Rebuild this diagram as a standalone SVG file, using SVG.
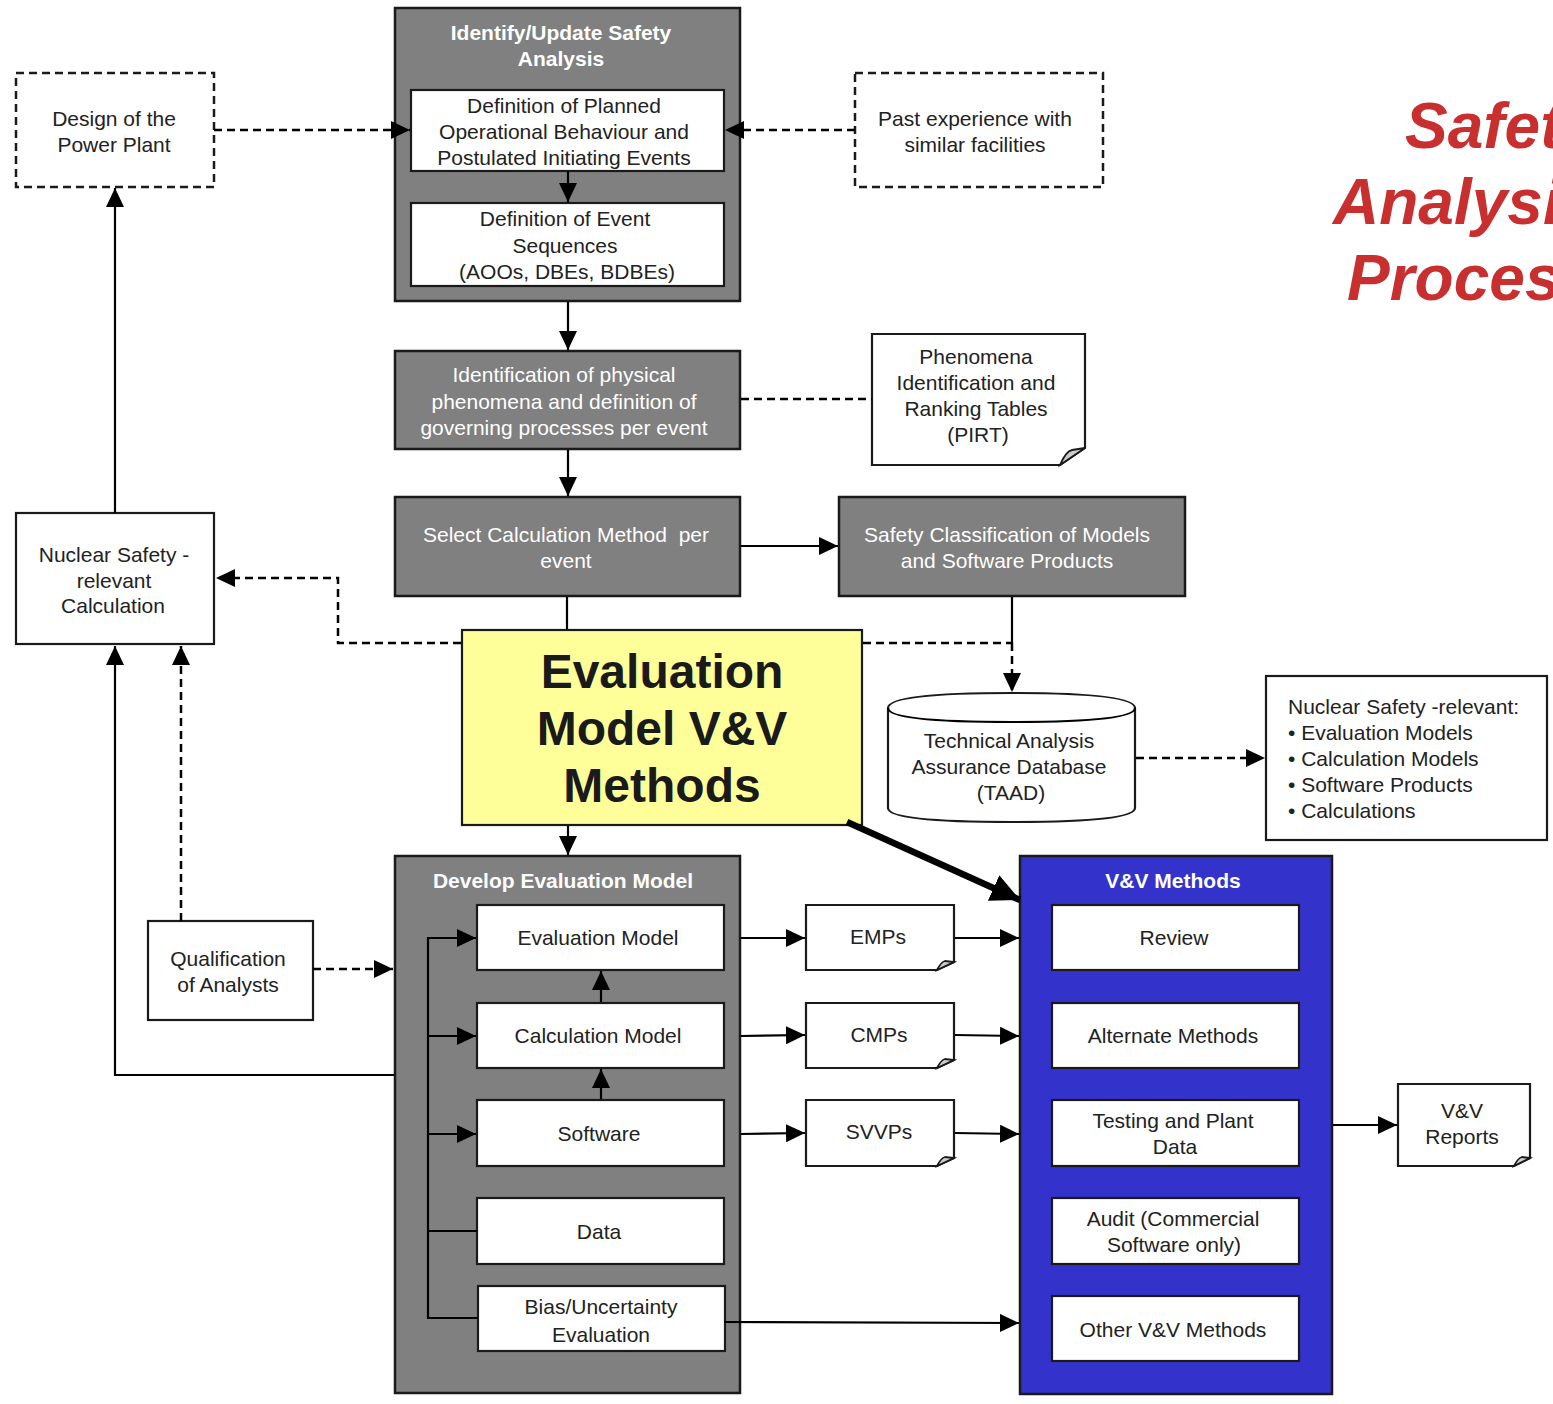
<svg xmlns="http://www.w3.org/2000/svg" width="1553" height="1404" viewBox="0 0 1553 1404">
  <style>
    text { font-family: "Liberation Sans", Arial, sans-serif; }
    .t { font-size: 21px; fill: #222; text-anchor: middle; }
    .tl { font-size: 21px; fill: #222; text-anchor: start; }
    .tw { font-size: 21px; fill: #fff; text-anchor: middle; }
    .hw { font-size: 21px; fill: #fff; text-anchor: middle; font-weight: bold; }
    .big { font-size: 48px; fill: #1a1a1a; text-anchor: middle; font-weight: bold; }
    .red { font-size: 64px; fill: #c8302f; font-weight: bold; font-style: italic; }
    .grey { fill: #808080; stroke: #1a1a1a; stroke-width: 2.5; }
    .white { fill: #fff; stroke: #1a1a1a; stroke-width: 2.2; }
    .dash { fill: #fff; stroke: #1a1a1a; stroke-width: 2.5; stroke-dasharray: 8 5; }
    .blue { fill: #3333cc; stroke: #1a1a1a; stroke-width: 2.5; }
    .fold { fill: #cccccc; stroke: #1a1a1a; stroke-width: 1.8; }
    .ln { fill: none; stroke: #000; stroke-width: 2.2; }
    .ld { fill: none; stroke: #000; stroke-width: 2.5; stroke-dasharray: 8 5; }
    .arr { marker-end: url(#ah); }
  </style>
  <defs>
    <marker id="ah" markerUnits="userSpaceOnUse" markerWidth="20" markerHeight="18" refX="19" refY="9" orient="auto">
      <path d="M0,0 L19,9 L0,18 Z" fill="#000"/>
    </marker>
    <marker id="ahBig" markerUnits="userSpaceOnUse" markerWidth="30" markerHeight="28" refX="29" refY="14" orient="auto">
      <path d="M0,0 L29,14 L0,28 Z" fill="#000"/>
    </marker>
  </defs>

  <rect width="1553" height="1404" fill="#fff"/>

  <!-- title -->
  <g id="title">
    <text class="red" x="1405" y="148">Safety</text>
    <text class="red" x="1333" y="224">Analysis</text>
    <text class="red" x="1347" y="300">Process</text>
  </g>

  <g id="design">
    <rect class="dash" x="16" y="73" width="198" height="114"/>
    <text class="t" x="114" y="126">Design of the</text>
    <text class="t" x="114" y="152">Power Plant</text>
  </g>

  <g id="past">
    <rect class="dash" x="855" y="73" width="248" height="114"/>
    <text class="t" x="975" y="126">Past experience with</text>
    <text class="t" x="975" y="152">similar facilities</text>
  </g>

  <g id="identify">
    <rect class="grey" x="395" y="8" width="345" height="293"/>
    <text class="hw" x="561" y="40">Identify/Update Safety</text>
    <text class="hw" x="561" y="66">Analysis</text>
    <rect class="white" x="411" y="90" width="313" height="81"/>
    <text class="t" x="564" y="113">Definition of Planned</text>
    <text class="t" x="564" y="139">Operational Behaviour and</text>
    <text class="t" x="564" y="165">Postulated Initiating Events</text>
    <rect class="white" x="411" y="203" width="313" height="83"/>
    <text class="t" x="565" y="226">Definition of Event</text>
    <text class="t" x="565" y="253">Sequences</text>
    <text class="t" x="567" y="279">(AOOs, DBEs, BDBEs)</text>
  </g>

  <g id="phenomena">
    <rect class="grey" x="395" y="351" width="345" height="98"/>
    <text class="tw" x="564" y="382">Identification of physical</text>
    <text class="tw" x="564" y="409">phenomena and definition of</text>
    <text class="tw" x="564" y="435">governing processes per event</text>
  </g>

  <g id="pirt">
    <path class="white" d="M872,334 H1085 V448 L1060,465 H872 Z"/>
    <path class="fold" d="M1060,465 Q1066,451 1072,450 L1085,448 Z"/>
    <text class="t" x="976" y="364">Phenomena</text>
    <text class="t" x="976" y="390">Identification and</text>
    <text class="t" x="976" y="416">Ranking Tables</text>
    <text class="t" x="978" y="442">(PIRT)</text>
  </g>

  <g id="select">
    <rect class="grey" x="395" y="497" width="345" height="99"/>
    <text class="tw" x="566" y="542" xml:space="preserve">Select Calculation Method  per</text>
    <text class="tw" x="566" y="568">event</text>
  </g>

  <g id="classification">
    <rect class="grey" x="839" y="497" width="346" height="99"/>
    <text class="tw" x="1007" y="542">Safety Classification of Models</text>
    <text class="tw" x="1007" y="568">and Software Products</text>
  </g>

  <g id="calculation">
    <rect class="white" x="16" y="513" width="198" height="131"/>
    <text class="t" x="114" y="562">Nuclear Safety -</text>
    <text class="t" x="114" y="588">relevant</text>
    <text class="t" x="113" y="613">Calculation</text>
  </g>

  <g id="vv-core">
    <rect fill="#ffff99" stroke="#1a1a1a" stroke-width="2.2" x="462" y="630" width="400" height="195"/>
    <text class="big" x="662" y="688">Evaluation</text>
    <text class="big" x="662" y="745">Model V&amp;V</text>
    <text class="big" x="662" y="802">Methods</text>
  </g>

  <g id="taad">
    <path class="white" d="M888,708 Q888,693 1012,693 Q1135,693 1135,708 V808 Q1135,822 1012,822 Q888,822 888,808 Z"/>
    <path class="ln" d="M888,708 Q888,722 1012,722 Q1135,722 1135,708"/>
    <text class="t" x="1009" y="748">Technical Analysis</text>
    <text class="t" x="1009" y="774">Assurance Database</text>
    <text class="t" x="1011" y="800">(TAAD)</text>
  </g>

  <g id="relevant-list">
    <rect class="white" x="1266" y="676" width="281" height="164"/>
    <text class="tl" x="1288" y="714">Nuclear Safety -relevant:</text>
    <text class="tl" x="1288" y="740">• Evaluation Models</text>
    <text class="tl" x="1288" y="766">• Calculation Models</text>
    <text class="tl" x="1288" y="792">• Software Products</text>
    <text class="tl" x="1288" y="818">• Calculations</text>
  </g>

  <g id="develop">
    <rect class="grey" x="395" y="856" width="345" height="537"/>
    <text class="hw" x="563" y="888">Develop Evaluation Model</text>
    <g id="evaluation-model">
      <rect class="white" x="477" y="905" width="247" height="65"/>
      <text class="t" x="598" y="945">Evaluation Model</text>
    </g>
    <g id="calculation-model">
      <rect class="white" x="477" y="1003" width="247" height="65"/>
      <text class="t" x="598" y="1043">Calculation Model</text>
    </g>
    <g id="software">
      <rect class="white" x="477" y="1100" width="247" height="66"/>
      <text class="t" x="599" y="1141">Software</text>
    </g>
    <g id="data">
      <rect class="white" x="477" y="1198" width="247" height="66"/>
      <text class="t" x="599" y="1239">Data</text>
    </g>
    <g id="bias">
      <rect class="white" x="478" y="1286" width="247" height="65"/>
      <text class="t" x="601" y="1314">Bias/Uncertainty</text>
      <text class="t" x="601" y="1342">Evaluation</text>
    </g>
  </g>

  <g id="qualification">
    <rect class="white" x="148" y="921" width="165" height="99"/>
    <text class="t" x="228" y="966">Qualification</text>
    <text class="t" x="228" y="992">of Analysts</text>
  </g>

  <g id="emps">
    <path class="white" d="M806,905 H954 V962 L937,970 H806 Z"/>
    <path class="fold" d="M937,970 Q941,962 945,961 L954,962 Z"/>
    <text class="t" x="878" y="944">EMPs</text>
  </g>
  <g id="cmps">
    <path class="white" d="M806,1003 H954 V1060 L937,1068 H806 Z"/>
    <path class="fold" d="M937,1068 Q941,1060 945,1059 L954,1060 Z"/>
    <text class="t" x="879" y="1042">CMPs</text>
  </g>
  <g id="svvps">
    <path class="white" d="M806,1100 H954 V1158 L937,1166 H806 Z"/>
    <path class="fold" d="M937,1166 Q941,1158 945,1157 L954,1158 Z"/>
    <text class="t" x="879" y="1139">SVVPs</text>
  </g>

  <g id="vv-methods">
    <rect class="blue" x="1020" y="856" width="312" height="538"/>
    <text class="hw" x="1173" y="888">V&amp;V Methods</text>
    <g id="review">
      <rect class="white" x="1052" y="905" width="247" height="65"/>
      <text class="t" x="1174" y="945">Review</text>
    </g>
    <g id="alternate">
      <rect class="white" x="1052" y="1003" width="247" height="65"/>
      <text class="t" x="1173" y="1043">Alternate Methods</text>
    </g>
    <g id="testing">
      <rect class="white" x="1052" y="1100" width="247" height="66"/>
      <text class="t" x="1173" y="1128">Testing and Plant</text>
      <text class="t" x="1175" y="1154">Data</text>
    </g>
    <g id="audit">
      <rect class="white" x="1052" y="1198" width="247" height="66"/>
      <text class="t" x="1173" y="1226">Audit (Commercial</text>
      <text class="t" x="1174" y="1252">Software only)</text>
    </g>
    <g id="other">
      <rect class="white" x="1052" y="1296" width="247" height="65"/>
      <text class="t" x="1173" y="1337">Other V&amp;V Methods</text>
    </g>
  </g>

  <g id="reports">
    <path class="white" d="M1398,1084 H1530 V1158 L1514,1166 H1398 Z"/>
    <path class="fold" d="M1514,1166 Q1518,1158 1522,1157 L1530,1158 Z"/>
    <text class="t" x="1462" y="1118">V&amp;V</text>
    <text class="t" x="1462" y="1144">Reports</text>
  </g>

  <!-- connectors, drawn over the boxes -->
  <g id="connectors">
    <line class="ld arr" x1="214" y1="130" x2="410" y2="130"/>
    <line class="ld arr" x1="855" y1="130" x2="725" y2="130"/>
    <line class="ln arr" x1="568" y1="171" x2="568" y2="202"/>
    <line class="ln arr" x1="568" y1="302" x2="568" y2="350"/>
    <line class="ld" x1="741" y1="399" x2="872" y2="399"/>
    <line class="ln arr" x1="568" y1="450" x2="568" y2="496"/>
    <line class="ln arr" x1="741" y1="546" x2="838" y2="546"/>
    <line class="ln arr" x1="115" y1="513" x2="115" y2="188"/>
    <line class="ln" x1="567" y1="597" x2="567" y2="629"/>
    <polyline class="ld arr" points="461,643 338,643 338,578 216,578"/>
    <line class="ln" x1="1012" y1="597" x2="1012" y2="643"/>
    <line class="ld" x1="863" y1="643" x2="1012" y2="643"/>
    <line class="ld arr" x1="1012" y1="643" x2="1012" y2="692"/>
    <line class="ld arr" x1="1136" y1="758" x2="1265" y2="758"/>
    <line class="ln arr" x1="568" y1="826" x2="568" y2="855"/>
    <line fill="none" stroke="#000" stroke-width="6.5" marker-end="url(#ahBig)" x1="847" y1="822" x2="1020" y2="900"/>
    <polyline class="ln arr" points="394,1075 115,1075 115,646"/>
    <line class="ld arr" x1="181" y1="921" x2="181" y2="646"/>
    <line class="ld arr" x1="313" y1="969" x2="393" y2="969"/>
    <!-- internal bus of the evaluation model -->
    <line class="ln" x1="428" y1="937" x2="428" y2="1319"/>
    <line class="ln arr" x1="427" y1="938" x2="476" y2="938"/>
    <line class="ln arr" x1="427" y1="1036" x2="476" y2="1036"/>
    <line class="ln arr" x1="427" y1="1134" x2="476" y2="1134"/>
    <line class="ln" x1="427" y1="1231" x2="477" y2="1231"/>
    <line class="ln" x1="427" y1="1318" x2="478" y2="1318"/>
    <line class="ln arr" x1="601" y1="1002" x2="601" y2="971"/>
    <line class="ln arr" x1="601" y1="1099" x2="601" y2="1069"/>
    <line class="ln arr" x1="741" y1="938" x2="805" y2="938"/>
    <line class="ln arr" x1="955" y1="938" x2="1019" y2="938"/>
    <line class="ln arr" x1="741" y1="1036" x2="805" y2="1035"/>
    <line class="ln arr" x1="955" y1="1035" x2="1019" y2="1036"/>
    <line class="ln arr" x1="741" y1="1134" x2="805" y2="1133"/>
    <line class="ln arr" x1="955" y1="1133" x2="1019" y2="1134"/>
    <line class="ln arr" x1="724" y1="1322" x2="1019" y2="1323"/>
    <line class="ln arr" x1="1333" y1="1125" x2="1397" y2="1125"/>
  </g>
</svg>
